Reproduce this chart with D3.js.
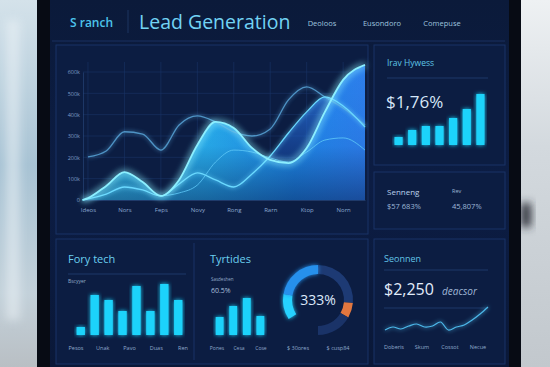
<!DOCTYPE html>
<html>
<head>
<meta charset="utf-8">
<script src="https://cdn.jsdelivr.net/npm/d3@7"></script>
<style>
  html, body { margin: 0; padding: 0; background: #0a1530; }
  svg { display: block; font-family: "Open Sans", "Noto Sans", sans-serif; }
</style>
</head>
<body>
<script>
// ---- data ----
var navItems = ["Deoloos", "Eusondoro", "Comepuse"]
var mainLabels = ["Ideos", "Nors", "Feps", "Novy", "Rong", "Rarn", "Ktop", "Norn"]
var mainTicks = [0, 100, 200, 300, 400, 500, 600]
var mainTickText = ["0", "100k", "200k", "300k", "400k", "500k", "600k"]
var mainX  = [-0.15, 0, 0.5, 1, 1.5, 2, 2.5, 3, 3.5, 4, 4.5, 5, 5.5, 6, 6.5, 7, 7.6]
var leadsA = [0, 9, 66, 131, 84, 19, 94, 258, 366, 338, 244, 188, 173, 244, 413, 563, 633]
var leadsB = [0, 5, 28, 61, 47, 19, 75, 127, 94, 61, 122, 206, 314, 413, 483, 441, 342]
var leadsU = [null, 202, 230, 320, 309, 234, 352, 394, 366, 319, 300, 333, 469, 530, 483, 431, 352]
var leadsC = [null, null, null, null, null, 19, 33, 70, 178, 234, 225, 197, 178, 225, 281, 291, 234]

var growthBars = [8, 15, 19, 19, 27, 36, 51]
var techBars = [8, 40, 35, 24, 49, 24, 51, 35]
var techLabels = ["Pesos", "Unak", "Pavo", "Duas", "Ren"]
var typeBars = [18, 29, 37, 19]
var typeLabels = ["Pones", "Cesa", "Cose"]
var donutParts = [
  { name: "rest", value: 95, color: "#1d3a74" },
  { name: "alert", value: 25, color: "#e2773f" },
  { name: "rest2", value: 60, color: "#1a3368" },
  { name: "gap", value: 57, color: "none" },
  { name: "new", value: 43, color: "#27d2ff" },
  { name: "won", value: 80, color: "#2590ec" }
]
var donutLabels = ["$ 30ores", "$ cusp84"]
var sparkValues = [10, 13, 11, 14, 16, 13, 14, 18, 10, 13, 15, 20, 26, 33]
var sparkLabels = ["Doberis", "Skum", "Cossot", "Necue"]

var W = 550, H = 367

var svg = d3.select("body").append("svg")
  .attr("width", W)
  .attr("height", H)

var defs = svg.append("defs")

function grad(id, stops, x1, y1, x2, y2) { //{{{
  var g = defs.append("linearGradient").attr("id", id)
    .attr("x1", x1).attr("y1", y1).attr("x2", x2).attr("y2", y2)
  stops.forEach(s => g.append("stop").attr("offset", s[0]).attr("stop-color", s[1]).attr("stop-opacity", s[2] == null ? 1 : s[2]))
} //}}}

grad("bgLeft", [[0, "#d4e2ea"], [0.45, "#a8c3d4"], [0.8, "#c3d1da"], [1, "#b9bfc4"]], 0, 0, 0, 1)
grad("bgRight", [[0, "#eef1f3"], [0.4, "#d3d9de"], [1, "#c2c8cd"]], 0, 0, 0, 1)
grad("screen", [[0, "#0b1a3a"], [0.5, "#0c1d44"], [1, "#0a1838"]], 0, 0, 0, 1)
grad("areaA", [[0, "#3fd8ff"], [0.45, "#2ab8fb"], [0.75, "#2090f4"], [1, "#2f84f6"]], 0, 0, 1, 0)
grad("shadeA", [[0, "#061a4a", 0], [0.6, "#061a4a", 0.08], [1, "#061a4a", 0.5]], 0, 0, 0, 1)
grad("areaB", [[0, "#2c7cf0", 0.7], [1, "#0d3a9c", 0.35]], 0, 0, 0, 1)

var glow = defs.append("filter").attr("id", "glow")
  .attr("x", "-30%").attr("y", "-30%").attr("width", "160%").attr("height", "160%")
glow.append("feGaussianBlur").attr("stdDeviation", 2.2).attr("result", "b")
var gm = glow.append("feMerge")
gm.append("feMergeNode").attr("in", "b")
gm.append("feMergeNode").attr("in", "SourceGraphic")

var bloom = defs.append("filter").attr("id", "bloom")
  .attr("x", "-20%").attr("y", "-20%").attr("width", "140%").attr("height", "140%")
bloom.append("feGaussianBlur").attr("stdDeviation", 3.5).attr("result", "b")
var bm = bloom.append("feMerge")
bm.append("feMergeNode").attr("in", "b")
bm.append("feMergeNode").attr("in", "b")
bm.append("feMergeNode").attr("in", "SourceGraphic")

var soft = defs.append("filter").attr("id", "soft")
  .attr("x", "-50%").attr("y", "-50%").attr("width", "200%").attr("height", "200%")
soft.append("feGaussianBlur").attr("stdDeviation", 4)

// ---- room behind the monitor ----
svg.append("rect").attr("x", 0).attr("y", 0).attr("width", 40).attr("height", H).attr("fill", "url(#bgLeft)")
svg.append("rect").attr("x", 515).attr("y", 0).attr("width", 35).attr("height", H).attr("fill", "url(#bgRight)")
svg.append("rect").attr("x", 521).attr("y", 203).attr("width", 10).attr("height", 24)
  .attr("fill", "#2e333b").attr("filter", "url(#soft)")
svg.append("rect").attr("x", 6).attr("y", 20).attr("width", 14).attr("height", 300)
  .attr("fill", "#eef4f8").attr("opacity", 0.5).attr("filter", "url(#soft)")

// bezel
svg.append("rect").attr("x", 37).attr("y", 0).attr("width", 484).attr("height", H).attr("fill", "#070b14")
svg.append("rect").attr("x", 50).attr("y", 0).attr("width", 459).attr("height", H).attr("fill", "url(#screen)")

// ---- header ----
var head = svg.append("g")
head.append("text").attr("x", 70).attr("y", 27).text("S ranch")
  .attr("font-size", 12).attr("font-weight", 600).attr("fill", "#4cc4ec")
head.append("line").attr("x1", 128).attr("x2", 128).attr("y1", 10).attr("y2", 33).attr("stroke", "#1d3560")
head.append("text").attr("x", 139).attr("y", 29).text("Lead Generation")
  .attr("font-size", 19.5).attr("fill", "#72d3f4")
var navX = d3.scalePoint().domain(navItems).range([322, 442])
head.selectAll(".nav").data(navItems).enter().append("text")
  .attr("x", d => navX(d)).attr("y", 26).attr("text-anchor", "middle")
  .attr("font-size", 7.5).attr("fill", "#9ec3df").text(d => d)
head.append("line").attr("x1", 52).attr("x2", 505).attr("y1", 41).attr("y2", 41).attr("stroke", "#1a3160")

// ---- panels ----
function panel(x, y, w, h) {
  svg.append("rect").attr("x", x).attr("y", y).attr("width", w).attr("height", h)
    .attr("fill", "#0c1d42").attr("stroke", "#183366").attr("stroke-width", 1)
}
panel(56, 45, 312, 189)
panel(374, 45, 131, 120)
panel(374, 172, 131, 57)
panel(56, 239, 312, 125)
panel(374, 239, 131, 125)
svg.append("line").attr("x1", 194).attr("x2", 194).attr("y1", 243).attr("y2", 360).attr("stroke", "#183366")

// ---- main chart ----
var x = d3.scaleLinear().domain([-0.15, 7.6]).range([82.5, 365])
var y = d3.scaleLinear().domain([0, 600]).range([200, 72])
var mg = svg.append("g")

mg.append("g").selectAll("line").data(mainTicks).enter().append("line")
  .attr("x1", 83).attr("x2", 365).attr("y1", d => y(d)).attr("y2", d => y(d))
  .attr("stroke", "#1a3466").attr("stroke-width", 0.6)
mg.append("g").selectAll("line").data(d3.range(mainLabels.length)).enter().append("line")
  .attr("x1", d => x(d)).attr("x2", d => x(d)).attr("y1", 62).attr("y2", 200)
  .attr("stroke", "#1a3466").attr("stroke-width", 0.6)

var yAxis = mg.append("g").attr("transform", "translate(83,0)")
  .call(d3.axisLeft(y).tickValues(mainTicks).tickFormat((d, i) => mainTickText[i]).tickSize(0).tickPadding(3))
yAxis.select(".domain").attr("stroke", "#2a4a80").attr("stroke-width", 0.6)
yAxis.selectAll("text").attr("fill", "#7f9cc6").attr("font-size", 5.5).attr("font-family", "Open Sans, sans-serif")

var xAxis = mg.append("g").attr("transform", "translate(0,200)")
  .call(d3.axisBottom(x).tickValues(d3.range(mainLabels.length)).tickFormat((d, i) => mainLabels[i]).tickSize(0).tickPadding(8))
xAxis.select(".domain").attr("stroke", "#2a4a80").attr("stroke-width", 0.6)
xAxis.selectAll("text").attr("fill", "#8ba8d0").attr("font-size", 6).attr("font-family", "Open Sans, sans-serif")

var pts = (vals) => vals.map((v, i) => [mainX[i], v])
var area = d3.area().defined(d => d[1] != null).x(d => x(d[0])).y0(y(0)).y1(d => y(d[1])).curve(d3.curveMonotoneX)
var line = d3.line().defined(d => d[1] != null).x(d => x(d[0])).y(d => y(d[1])).curve(d3.curveMonotoneX)

mg.append("path").datum(pts(leadsB)).attr("d", area).attr("fill", "url(#areaB)")
mg.append("path").datum(pts(leadsA)).attr("d", area).attr("fill", "url(#areaA)").attr("opacity", 0.95)
mg.append("path").datum(pts(leadsA)).attr("d", area).attr("fill", "url(#shadeA)")

mg.append("path").datum(pts(leadsC)).attr("d", line).attr("fill", "none")
  .attr("stroke", "#5cc6f6").attr("stroke-width", 1).attr("opacity", 0.85)
mg.append("path").datum(pts(leadsU)).attr("d", line).attr("fill", "none")
  .attr("stroke", "#5aa8dc").attr("stroke-width", 1.3).attr("opacity", 0.85).attr("filter", "url(#glow)")
mg.append("path").datum(pts(leadsB)).attr("d", line).attr("fill", "none")
  .attr("stroke", "#6ad9ff").attr("stroke-width", 1.3).attr("filter", "url(#glow)")
mg.append("path").datum(pts(leadsA)).attr("d", line).attr("fill", "none")
  .attr("stroke", "#8cefff").attr("stroke-width", 1.8).attr("filter", "url(#bloom)")

// ---- growth panel ----
var rg = svg.append("g")
rg.append("text").attr("x", 387).attr("y", 66).text("Irav Hywess").attr("font-size", 8.5).attr("fill", "#5fc6e6")
rg.append("line").attr("x1", 387).attr("x2", 488).attr("y1", 78).attr("y2", 78).attr("stroke", "#1d3868")
rg.append("text").attr("x", 386).attr("y", 108).text("$1,76%").attr("font-size", 17).attr("fill", "#d6e6f8")
var gx = d3.scaleBand().domain(d3.range(growthBars.length)).range([389, 490]).padding(0.4)
var gy = d3.scaleLinear().domain([0, 51]).range([145, 94])
rg.selectAll(".gbar").data(growthBars).enter().append("rect")
  .attr("x", (d, i) => gx(i)).attr("width", gx.bandwidth())
  .attr("y", d => gy(d)).attr("height", d => 145 - gy(d))
  .attr("fill", "#1fd3fb").attr("filter", "url(#glow)")

// ---- small stats panel ----
rg.append("text").attr("x", 387).attr("y", 195).text("Senneng").attr("font-size", 8).attr("fill", "#bcd3ec")
rg.append("text").attr("x", 452).attr("y", 193).text("Rev").attr("font-size", 5.5).attr("fill", "#9db6d4")
rg.append("text").attr("x", 387).attr("y", 209).text("$57 683%").attr("font-size", 7.5).attr("fill", "#9fb8d8")
rg.append("text").attr("x", 452).attr("y", 209).text("45,807%").attr("font-size", 7.5).attr("fill", "#9fb8d8")

// ---- tech bars ----
var bg = svg.append("g")
bg.append("text").attr("x", 68).attr("y", 263).text("Fory tech").attr("font-size", 11).attr("fill", "#6bcff0")
bg.append("line").attr("x1", 68).attr("x2", 186).attr("y1", 274).attr("y2", 274).attr("stroke", "#1d3868")
bg.append("text").attr("x", 68).attr("y", 283).text("Bscyyer").attr("font-size", 5).attr("fill", "#94acc9")
var tx = d3.scaleBand().domain(d3.range(techBars.length)).range([71, 188]).padding(0.4)
var ty = d3.scaleLinear().domain([0, 51]).range([335, 284])
bg.selectAll(".tbar").data(techBars).enter().append("rect")
  .attr("x", (d, i) => tx(i)).attr("width", tx.bandwidth())
  .attr("y", d => ty(d)).attr("height", d => 335 - ty(d))
  .attr("fill", "#1fd3fb").attr("filter", "url(#glow)")
var tlx = d3.scalePoint().domain(techLabels).range([76, 183])
bg.selectAll(".tlab").data(techLabels).enter().append("text")
  .attr("x", d => tlx(d)).attr("y", 350).attr("text-anchor", "middle")
  .attr("font-size", 5.5).attr("fill", "#8fa9cc").text(d => d)

// ---- type bars ----
bg.append("text").attr("x", 210).attr("y", 263).text("Tyrtides").attr("font-size", 11).attr("fill", "#6bcff0")
bg.append("text").attr("x", 211).attr("y", 281).text("Sasdeshen").attr("font-size", 4.5).attr("fill", "#94acc9")
bg.append("text").attr("x", 211).attr("y", 293).text("60.5%").attr("font-size", 7).attr("fill", "#a9bfdc")
var px = d3.scaleBand().domain(d3.range(typeBars.length)).range([210, 270]).padding(0.42)
var py = d3.scaleLinear().domain([0, 37]).range([335, 298])
bg.selectAll(".pbar").data(typeBars).enter().append("rect")
  .attr("x", (d, i) => px(i)).attr("width", px.bandwidth())
  .attr("y", d => py(d)).attr("height", d => 335 - py(d))
  .attr("fill", "#1fd3fb").attr("filter", "url(#glow)")
var plx = d3.scalePoint().domain(typeLabels).range([217, 261])
bg.selectAll(".plab").data(typeLabels).enter().append("text")
  .attr("x", d => plx(d)).attr("y", 350).attr("text-anchor", "middle")
  .attr("font-size", 5).attr("fill", "#8fa9cc").text(d => d)

// ---- donut ----
var dg = svg.append("g").attr("transform", "translate(318,300)")
var pie = d3.pie().sort(null).value(d => d.value)
var arc = d3.arc().innerRadius(26).outerRadius(35)
dg.selectAll("path").data(pie(donutParts)).enter().append("path")
  .attr("d", arc).attr("fill", d => d.data.color)
  .attr("filter", d => d.data.name == "new" || d.data.name == "won" ? "url(#glow)" : null)
dg.append("text").attr("y", 5).attr("text-anchor", "middle").text("333%")
  .attr("font-size", 14).attr("fill", "#dce8fa")
var dlx = d3.scalePoint().domain(donutLabels).range([-20, 20])
dg.selectAll(".dlab").data(donutLabels).enter().append("text")
  .attr("x", d => dlx(d)).attr("y", 50).attr("text-anchor", "middle")
  .attr("font-size", 5.5).attr("fill", "#8fa9cc").text(d => d)

// ---- sparkline panel ----
var sg = svg.append("g")
sg.append("text").attr("x", 384).attr("y", 262).text("Seonnen").attr("font-size", 9).attr("fill", "#62c4e6")
sg.append("line").attr("x1", 384).attr("x2", 488).attr("y1", 270).attr("y2", 270).attr("stroke", "#1d3868")
sg.append("text").attr("x", 384).attr("y", 295).text("$2,250").attr("font-size", 16).attr("fill", "#e2ecfa")
sg.append("text").attr("x", 442).attr("y", 295).text("deacsor").attr("font-size", 10)
  .attr("font-style", "italic").attr("fill", "#9fb6d6")
sg.append("line").attr("x1", 384).attr("x2", 488).attr("y1", 308).attr("y2", 308).attr("stroke", "#1d3868")
var sx = d3.scaleLinear().domain([0, sparkValues.length - 1]).range([385, 488])
var sy = d3.scaleLinear().domain([0, 33]).range([340, 307])
sg.append("path").datum(sparkValues)
  .attr("d", d3.line().x((d, i) => sx(i)).y(d => sy(d)).curve(d3.curveCatmullRom))
  .attr("fill", "none").attr("stroke", "#4cb8ea").attr("stroke-width", 1.2).attr("filter", "url(#glow)")
var slx = d3.scalePoint().domain(sparkLabels).range([394, 478])
sg.selectAll(".slab").data(sparkLabels).enter().append("text")
  .attr("x", d => slx(d)).attr("y", 349).attr("text-anchor", "middle")
  .attr("font-size", 5.5).attr("fill", "#8fa9cc").text(d => d)
</script>
</body>
</html>
